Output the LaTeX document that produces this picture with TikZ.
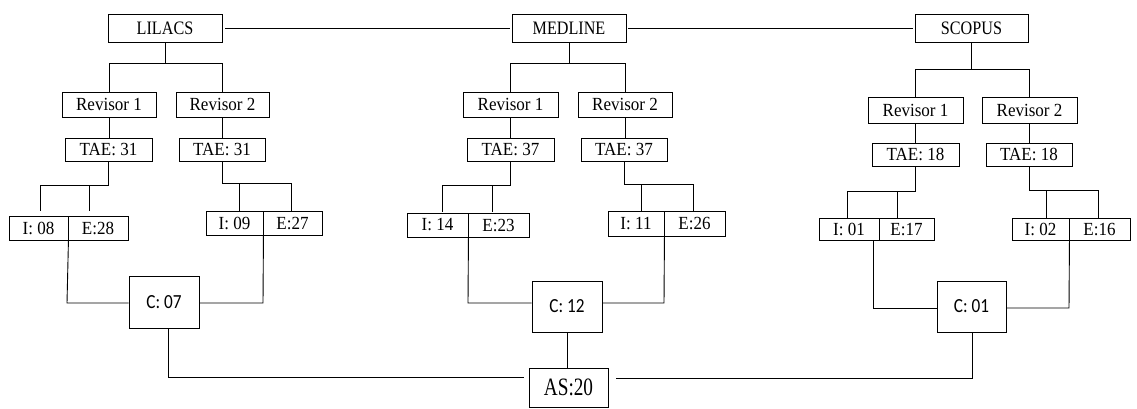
\documentclass[tikz,border=0pt]{standalone}
\usepackage{fontspec}
\usepackage{graphicx}
\setmainfont{Liberation Serif}
\newfontfamily\cfont{Carlito}
\usetikzlibrary{calc}
\newcommand\dbtxt[1]{\fontsize{19}{19}\selectfont\scalebox{0.85}[1]{#1}}
\newcommand\stxt[1]{\fontsize{18.5}{18.5}\selectfont\scalebox{0.92}[1]{#1}}
\newcommand\ctxt[1]{\cfont\fontsize{20}{20}\selectfont\scalebox{0.86}[1]{#1}}
\newcommand\astxt[1]{\fontsize{25}{25}\selectfont\scalebox{0.77}[1]{#1}}
\tikzset{
  bx/.style={draw, line width=0.9pt, inner sep=0pt, text=black},
  ln/.style={line width=0.9pt},
}
\begin{document}
\begin{tikzpicture}[x=1pt,y=-1pt]
\useasboundingbox (0,0) rectangle (1137,408);
\fill[white] (0,0) rectangle (1137,408);
% top databases
\node[bx, minimum width=114pt, minimum height=28pt] (lil) at (165,28) {\dbtxt{LILACS}};
\node[bx, minimum width=114pt, minimum height=28pt] (med) at (569,28) {\dbtxt{MEDLINE}};
\node[bx, minimum width=113pt, minimum height=28pt] (sco) at (971.5,28) {\dbtxt{SCOPUS}};
% LILACS branch
\node[bx, minimum width=94pt, minimum height=25pt] (lr1) at (109,104.5) {\stxt{Revisor 1}};
\node[bx, minimum width=93pt, minimum height=25pt] (lr2) at (222.5,104.5) {\stxt{Revisor 2}};
\node[bx, minimum width=87pt, minimum height=23pt] (lt1) at (108.5,149.5) {\stxt{TAE: 31}};
\node[bx, minimum width=86pt, minimum height=23pt] (lt2) at (222,149.5) {\stxt{TAE: 31}};
\node[bx, minimum width=59pt, minimum height=24pt] (li1) at (38.5,228) {\stxt{I: 08}};
\node[bx, minimum width=60pt, minimum height=24pt] (le1) at (98,228) {\stxt{E:28}};
\node[bx, minimum width=57pt, minimum height=24pt] (li2) at (234.5,223) {\stxt{I: 09}};
\node[bx, minimum width=59pt, minimum height=24pt] (le2) at (292.5,223) {\stxt{E:27}};
\node[bx, minimum width=70pt, minimum height=52pt] (c07) at (164,302) {\ctxt{C: 07}};
% MEDLINE branch
\node[bx, minimum width=95pt, minimum height=25pt] (mr1) at (510.5,104.5) {\stxt{Revisor 1}};
\node[bx, minimum width=94pt, minimum height=25pt] (mr2) at (625,104.5) {\stxt{Revisor 2}};
\node[bx, minimum width=87pt, minimum height=23pt] (mt1) at (510.5,149.5) {\stxt{TAE: 37}};
\node[bx, minimum width=86pt, minimum height=23pt] (mt2) at (624,149.5) {\stxt{TAE: 37}};
\node[bx, minimum width=61pt, minimum height=24pt] (mi1) at (437.5,225) {\stxt{I: 14}};
\node[bx, minimum width=61pt, minimum height=24pt] (me1) at (498.5,225) {\stxt{E:23}};
\node[bx, minimum width=56pt, minimum height=25pt] (mi2) at (636,223.5) {\stxt{I: 11}};
\node[bx, minimum width=61pt, minimum height=25pt] (me2) at (694.5,223.5) {\stxt{E:26}};
\node[bx, minimum width=70pt, minimum height=51pt] (c12) at (567,306.5) {\ctxt{C: 12}};
% SCOPUS branch
\node[bx, minimum width=95pt, minimum height=26pt] (sr1) at (915.5,110) {\stxt{Revisor 1}};
\node[bx, minimum width=95pt, minimum height=26pt] (sr2) at (1029.5,110) {\stxt{Revisor 2}};
\node[bx, minimum width=87pt, minimum height=23pt] (st1) at (915.5,154.5) {\stxt{TAE: 18}};
\node[bx, minimum width=86pt, minimum height=23pt] (st2) at (1029,154.5) {\stxt{TAE: 18}};
\node[bx, minimum width=60pt, minimum height=22pt] (si1) at (849,229.5) {\stxt{I: 01}};
\node[bx, minimum width=55pt, minimum height=22pt] (se1) at (906.5,229.5) {\stxt{E:17}};
\node[bx, minimum width=57pt, minimum height=22pt] (si2) at (1040.5,229) {\stxt{I: 02}};
\node[bx, minimum width=61pt, minimum height=22pt] (se2) at (1099.5,229) {\stxt{E:16}};
\node[bx, minimum width=69pt, minimum height=51pt] (c01) at (971.5,306.5) {\ctxt{C: 01}};
% final
\node[bx, minimum width=79pt, minimum height=39pt] (as) at (568.5,387.5) {\astxt{AS:20}};

% top links
\draw[ln, shorten <=3pt, shorten >=2pt] (lil.east) -- (med.west);
\draw[ln, shorten <=2pt, shorten >=2pt] (med.east) -- (sco.west);

% LILACS tree
\draw[ln] (lil.south) -- (lil.south |- 0,63);
\draw[ln] (lr1.north) |- (lr2.north |- 0,63) -- (lr2.north);
\draw[ln] (lr1.south) -- (lr1.south |- lt1.north);
\draw[ln] (lr2.south) -- (lr2.south |- lt2.north);
\draw[ln] (lt1.south) -- (lt1.south |- 0,185) -- (40,185) -- (40,211);
\draw[ln] (89,185) -- (89,211);
\draw[ln] (lt2.south) -- (lt2.south |- 0,183) -- (291,183) -- (291,211);
\draw[ln] (239,183) -- (239,211);
\draw[ln] (li1.south east) -- (67,303) -- (c07.west |- 0,303);
\draw[ln] (li2.south east) -- (263,303) -- (c07.east |- 0,303);

% MEDLINE tree
\draw[ln] (med.south) -- (med.south |- 0,63);
\draw[ln] (mr1.north) |- (mr2.north |- 0,63) -- (mr2.north);
\draw[ln] (mr1.south) -- (mr1.south |- mt1.north);
\draw[ln] (mr2.south) -- (mr2.south |- mt2.north);
\draw[ln] (mt1.south) -- (mt1.south |- 0,185) -- (442,185) -- (442,212);
\draw[ln] (492,185) -- (492,212);
\draw[ln] (mt2.south) -- (mt2.south |- 0,184) -- (693,184) -- (693,211);
\draw[ln] (641,184) -- (641,211);
\draw[ln] (mi1.south east) -- (468,303) -- (c12.west |- 0,303);
\draw[ln] (mi2.south east) -- (664,303) -- (c12.east |- 0,303);

% SCOPUS tree
\draw[ln] (sco.south) -- (sco.south |- 0,69);
\draw[ln] (sr1.north) |- (sr2.north |- 0,69) -- (sr2.north);
\draw[ln] (sr1.south) -- (sr1.south |- st1.north);
\draw[ln] (sr2.south) -- (sr2.south |- st2.north);
\draw[ln] (st1.south) -- (st1.south |- 0,191) -- (847,191) -- (847,219);
\draw[ln] (897,191) -- (897,219);
\draw[ln] (st2.south) -- (st2.south |- 0,190) -- (1098,190) -- (1098,218);
\draw[ln] (1046,190) -- (1046,218);
\draw[ln] (873,240) -- (873,308) -- (c01.west |- 0,308);
\draw[ln] (si2.south east) -- (1069,308) -- (c01.east |- 0,308);

% to AS
\draw[ln] (168,328) -- (168,377) -- ($(as.west |- 0,377)+(-5,0)$);
\draw[ln] (c12.south) -- (c12.south |- as.north);
\draw[ln] (972,332) -- (972,378) -- ($(as.east |- 0,378)+(8,0)$);
\end{tikzpicture}
\end{document}
